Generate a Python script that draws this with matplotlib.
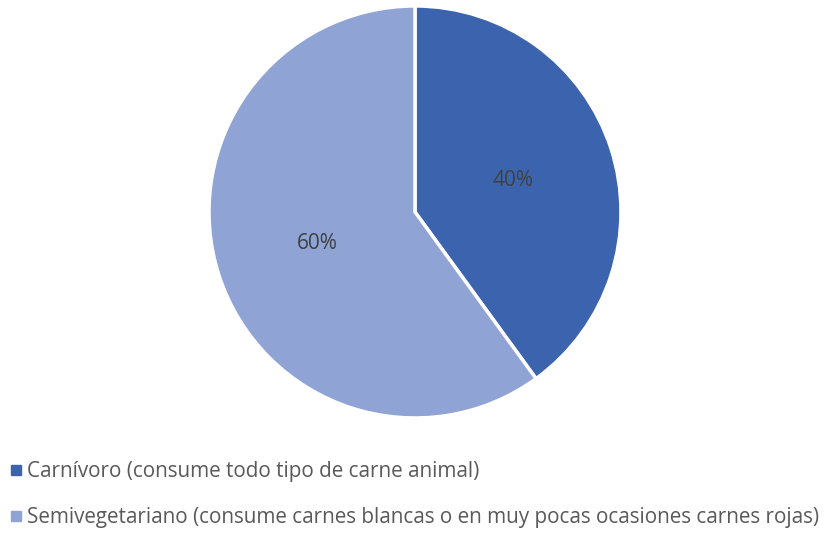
import matplotlib.pyplot as plt
from matplotlib.lines import Line2D

# Data
labels = ["Carnívoro (consume todo tipo de carne animal)",
          "Semivegetariano (consume carnes blancas o en muy pocas ocasiones carnes rojas)"]
values = [40, 60]
colors = ["#3C64AE", "#8FA3D5"]

plt.rcParams['font.family'] = ['Open Sans', 'DejaVu Sans']

fig = plt.figure(figsize=(8.35, 5.33), dpi=100)
ax = fig.add_axes([0.2503, 0.2158, 0.4934, 0.773])

wedges, texts, autotexts = ax.pie(values, colors=colors, startangle=90, counterclock=False,
                                  autopct='%1.0f%%', pctdistance=0.5,
                                  wedgeprops=dict(edgecolor='white', linewidth=2.5))
for t in autotexts:
    t.set_color('#404040')
    t.set_fontsize(15)
ax.set_xlim(-1, 1)
ax.set_ylim(-1, 1)
ax.set_aspect('auto')

# Legend at bottom left
handles = [Line2D([0], [0], marker='s', linestyle='none', markersize=7,
                  markerfacecolor=c, markeredgecolor=c) for c in colors]
leg = fig.legend(handles, labels, loc='upper left', bbox_to_anchor=(0.003, 0.15),
                 frameon=False, fontsize=14.9, labelcolor='#595959',
                 handlelength=0.5, handletextpad=0.3, labelspacing=1.2,
                 borderaxespad=0)

fig.savefig('out.png', dpi=100)
